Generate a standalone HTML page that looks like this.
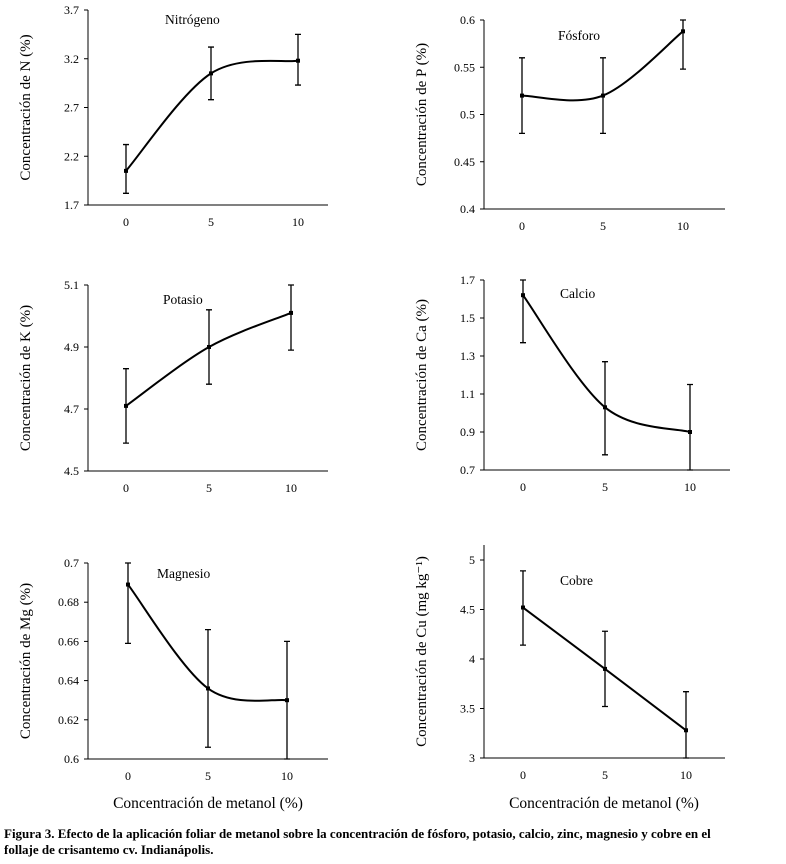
<!DOCTYPE html>
<html><head><meta charset="utf-8">
<style>
body{margin:0;background:#fff;width:786px;height:864px;overflow:hidden;font-family:"Liberation Serif",serif;}
svg{position:absolute;left:0;top:0}
#cap{position:absolute;left:4px;top:826px;width:782px;font-size:13px;font-weight:bold;line-height:16px;color:#000;white-space:nowrap}
</style></head><body>
<svg id="chart" width="786" height="864"></svg>
<div id="cap">Figura 3. Efecto de la aplicación foliar de metanol sobre la concentración de fósforo, potasio, calcio, zinc, magnesio y cobre en el<br>follaje de crisantemo cv. Indianápolis.</div>
<script>
const categories = ["0","5","10"];
const nValues = [2.05, 3.05, 3.18];
const nLow = [1.82, 2.78, 2.93];
const nHigh = [2.32, 3.32, 3.45];
const nTicks = ["1.7","2.2","2.7","3.2","3.7"];
const pValues = [0.52, 0.52, 0.588];
const pLow = [0.48, 0.48, 0.548];
const pHigh = [0.56, 0.56, 0.60];
const pTicks = ["0.4","0.45","0.5","0.55","0.6"];
const kValues = [4.71, 4.90, 5.01];
const kLow = [4.59, 4.78, 4.89];
const kHigh = [4.83, 5.02, 5.10];
const kTicks = ["4.5","4.7","4.9","5.1"];
const caValues = [1.62, 1.03, 0.90];
const caLow = [1.37, 0.78, 0.70];
const caHigh = [1.70, 1.27, 1.15];
const caTicks = ["0.7","0.9","1.1","1.3","1.5","1.7"];
const mgValues = [0.689, 0.636, 0.630];
const mgLow = [0.659, 0.606, 0.60];
const mgHigh = [0.70, 0.666, 0.66];
const mgTicks = ["0.6","0.62","0.64","0.66","0.68","0.7"];
const cuValues = [4.52, 3.90, 3.28];
const cuLow = [4.14, 3.52, 3.0];
const cuHigh = [4.89, 4.28, 3.67];
const cuTicks = ["3","3.5","4","4.5","5"];

const svg = document.getElementById('chart');
const NS = 'http://www.w3.org/2000/svg';
function mk(tag, attrs, parent){const e=document.createElementNS(NS,tag);for(const k in attrs)e.setAttribute(k,attrs[k]);(parent||svg).appendChild(e);return e;}

const panels = [
 {key:'nitrogeno', title:'Nitrógeno', tx:165, ty:24, ylab:'Concentración de N  (%)', ax:88, top:10, bottom:205, right:328, xs:[126,211,298], ticks:nTicks, vals:nValues, lo:nLow, hi:nHigh, smooth:true},
 {key:'fosforo', title:'Fósforo', tx:558, ty:40, ylab:'Concentración de P  (%)', ax:484, top:20, bottom:209, right:725, xs:[522,603,683], ticks:pTicks, vals:pValues, lo:pLow, hi:pHigh, smooth:true},
 {key:'potasio', title:'Potasio', tx:163, ty:304, ylab:'Concentración de K  (%)', ax:88, top:285, bottom:471, right:328, xs:[126,209,291], ticks:kTicks, vals:kValues, lo:kLow, hi:kHigh, smooth:true},
 {key:'calcio', title:'Calcio', tx:560, ty:298, ylab:'Concentración de Ca  (%)', ax:484, top:280, bottom:470, right:730, xs:[523,605,690], ticks:caTicks, vals:caValues, lo:caLow, hi:caHigh, smooth:true},
 {key:'magnesio', title:'Magnesio', tx:157, ty:578, ylab:'Concentración de Mg  (%)', ax:88, top:563, bottom:759, right:328, xs:[128,208,287], ticks:mgTicks, vals:mgValues, lo:mgLow, hi:mgHigh, smooth:true},
 {key:'cobre', title:'Cobre', tx:560, ty:585, ylab:'Concentración de Cu (mg kg\u207B\u00B9)', ax:484, top:545, bottom:758, right:725, xs:[523,605,686], ticks:cuTicks, vals:cuValues, lo:cuLow, hi:cuHigh, smooth:false, ymaxTickY:560}
];

panels.forEach(p=>{
  const g = mk('g',{});
  
  
  const tmin = parseFloat(p.ticks[0]), tmax = parseFloat(p.ticks[p.ticks.length-1]);
  const yTop = p.ymaxTickY || p.top;
  const y = v => p.bottom - (v - tmin)/(tmax - tmin)*(p.bottom - yTop);
  const xAxis = mk('line',{x1:p.ax,y1:p.bottom,x2:p.right,y2:p.bottom,stroke:'#000','stroke-width':1},g);
  
  
  const yAxis = mk('line',{x1:p.ax,y1:p.top,x2:p.ax,y2:p.bottom,stroke:'#000','stroke-width':1},g);
  
  
  p.ticks.forEach(t=>{
    const yy = y(parseFloat(t));
    mk('line',{x1:p.ax-4,y1:yy,x2:p.ax,y2:yy,stroke:'#000'},g);
    const tl = mk('text',{x:p.ax-9,y:yy+4,'text-anchor':'end','font-size':12},g);
    tl.textContent = t;
    
    
  });
  categories.forEach((c,i)=>{
    const xl = mk('text',{x:p.xs[i],y:p.bottom+21,'text-anchor':'middle','font-size':12},g);
    xl.textContent = c;
    
    
  });
  const title = mk('text',{x:p.tx,y:p.ty,'font-size':13.5},g);
  title.textContent = p.title;
  
  
  const cy = (p.top+p.bottom)/2;
  const yl = mk('text',{x:p.ax-58,y:cy,'text-anchor':'middle','font-size':15,transform:`rotate(-90 ${p.ax-58} ${cy})`},g);
  yl.textContent = p.ylab;
  
  
  const pts = p.vals.map((v,i)=>[p.xs[i], y(v)]);
  let d = `M${pts[0][0]},${pts[0][1]}`;
  if(p.smooth){
    const tns = 0.5/3*2;
    for(let i=0;i<pts.length-1;i++){
      const p0=pts[i-1]||pts[i], p1=pts[i], p2=pts[i+1], p3=pts[i+2]||p2;
      const c1=[p1[0]+(p2[0]-p0[0])*tns/2, p1[1]+(p2[1]-p0[1])*tns/2];
      const c2=[p2[0]-(p3[0]-p1[0])*tns/2, p2[1]-(p3[1]-p1[1])*tns/2];
      d += ` C${c1[0]},${c1[1]} ${c2[0]},${c2[1]} ${p2[0]},${p2[1]}`;
    }
  } else pts.slice(1).forEach(q=> d += ` L${q[0]},${q[1]}`);
  const line = mk('path',{d:d,fill:'none',stroke:'#000','stroke-width':2},g);
  
  
  p.vals.forEach((v,i)=>{
    const x = p.xs[i];
    const eb = mk('path',{d:`M${x},${y(p.lo[i])}V${y(p.hi[i])}M${x-3},${y(p.lo[i])}H${x+3}M${x-3},${y(p.hi[i])}H${x+3}`,stroke:'#000','stroke-width':1.3,fill:'none'},g);
    
    
    const pt = mk('rect',{x:x-2,y:y(v)-2,width:4,height:4,fill:'#000'},g);
    
    
  });
});
[[208,'left'],[604,'right']].forEach(([x,s])=>{
  const t = mk('text',{x:x,y:808,'text-anchor':'middle','font-size':15.5});
  t.textContent = 'Concentración de metanol (%)';
  
  
});
</script>
</body></html>
